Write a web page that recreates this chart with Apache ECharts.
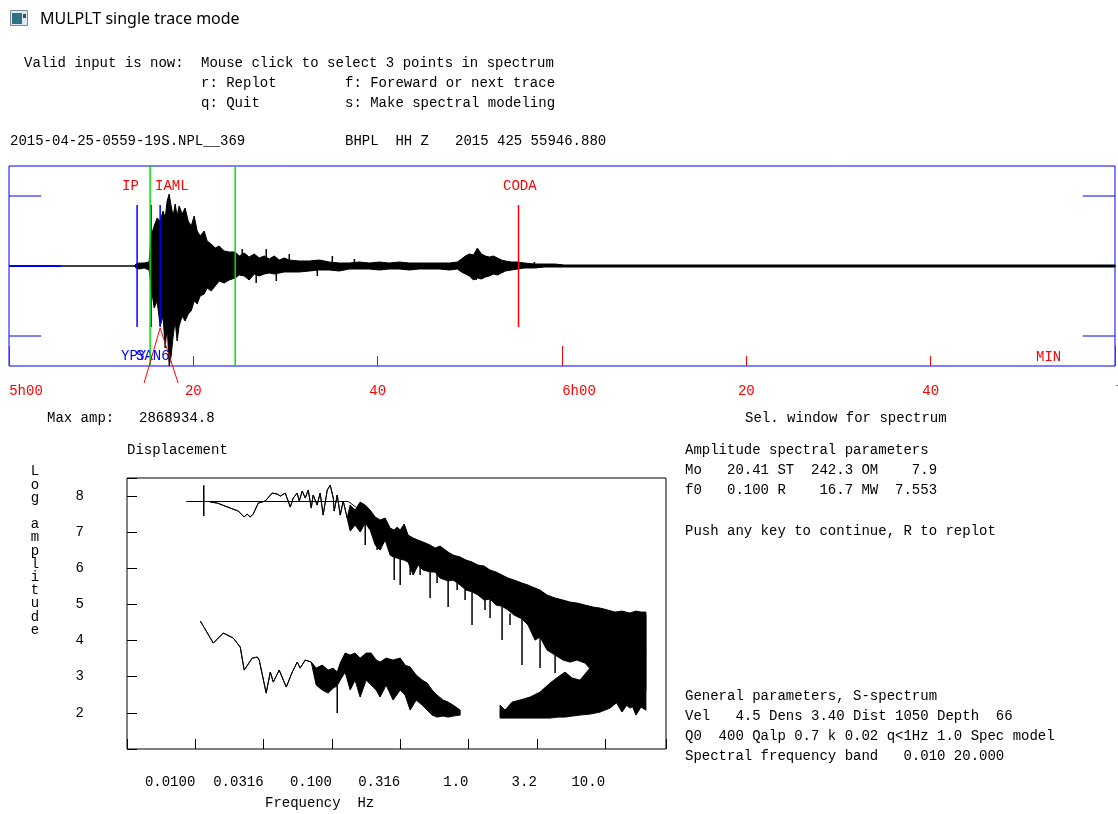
<!DOCTYPE html>
<html>
<head>
<meta charset="utf-8">
<title>MULPLT single trace mode</title>
<script src="https://cdn.jsdelivr.net/npm/echarts@6/dist/echarts.min.js"></script>
<style>
  html, body { margin: 0; padding: 0; background: #fff; }
  #main { width: 1118px; height: 814px; }
</style>
</head>
<body>
<div id="main"></div>
<script>
// ---- trace panel: minutes after 5h00, amplitude in panel units (+-100 = frame)
const traceMin = [0, 13.57, 13.79, 14.12, 14.66, 15.20, 15.42, 15.75, 16.07, 16.40, 16.72, 16.94, 17.16, 17.38, 17.59,
  17.81, 18.03, 18.24, 18.46, 18.79, 19.11, 19.44, 19.77, 20.09, 20.42, 20.74, 21.18, 21.50, 21.94, 22.37, 22.81,
  23.35, 23.89, 24.54, 24.98, 25.52, 26.06, 26.61, 27.15, 27.69, 28.24, 28.78, 29.32, 29.87, 30.41, 31.49, 32.58,
  33.67, 34.75, 35.84, 36.92, 38.01, 39.10, 40.18, 41.27, 42.35, 43.44, 44.53, 45.61, 46.70, 47.78, 48.65, 49.09,
  49.52, 49.96, 50.39, 50.82, 51.26, 51.69, 52.13, 52.56, 53.00, 53.43, 53.87, 54.52, 55.17, 55.93, 57.01, 58.10,
  59.19, 60.27, 120];
const traceTop = [0, 0, 2, 3, 3, 4, 30, 40, 48, 45, 55, 48, 65, 72, 60,
  50, 62, 50, 60, 52, 58, 45, 40, 50, 35, 30, 35, 25, 22, 18, 20,
  15, 14, 14, 10, 13, 9, 12, 8, 10, 7, 10, 6, 8, 6, 5, 5,
  6, 4, 3, 3, 4, 3, 4, 3, 4, 3, 3, 3, 3, 3, 4, 7,
  10, 12, 11, 18, 12, 10, 9, 10, 8, 6, 5, 4, 4, 3, 2, 2,
  2, 1, 1];
const traceBot = [0, 0, -2, -3, -2, -4, -20, -42, -35, -60, -50, -82, -60, -100, -90,
  -70, -55, -75, -60, -50, -55, -48, -45, -35, -38, -30, -28, -22, -25, -20, -15,
  -17, -14, -12, -9, -10, -14, -8, -10, -8, -7, -8, -7, -6, -6, -6, -5,
  -4, -4, -5, -3, -3, -3, -4, -3, -3, -4, -3, -3, -3, -4, -3, -6,
  -8, -10, -14, -12, -13, -11, -10, -8, -9, -7, -5, -4, -3, -2, -2, -1,
  -1, -1, -1];
// isolated swings standing out of the coda: [minute, peak, trough]
const traceSpikeMin = [25.30, 26.82, 27.91, 29.00, 30.41, 33.45, 35.08, 37.47, 50.70, 57.00];
const traceSpikeTop = [17, 5, 17, 4, 12, 3, 10, 7, 2, 4];
const traceSpikeBot = [-5, -17, -5, -15, -4, -10, -3, -3, -14, -1];

const bluePicks = [13.90, 15.42, 16.40];
const greenPicks = [15.31, 24.54];
const codaPick = [55.28];
const amlMarker = [[14.66, -117], [16.40, -62], [18.35, -117]];
const timeLabels = ['5h00', '20', '40', '6h00', '20', '40', '7h00'];

// ---- spectrum panel: log10 frequency (Hz) vs log amplitude
const sigLogF = [-1.890, -1.839, -1.744, -1.685, -1.642, -1.620, -1.598, -1.576, -1.539, -1.488, -1.437, -1.400,
  -1.378, -1.342, -1.320, -1.305, -1.283, -1.254, -1.239, -1.217, -1.195, -1.173, -1.151, -1.137, -1.108, -1.086,
  -1.064, -1.034, -1.012, -0.990, -0.983, -0.961, -0.939, -0.917, -0.888,
  -0.866, -0.830, -0.793, -0.756, -0.720, -0.683, -0.647, -0.610, -0.574, -0.544, -0.522, -0.500, -0.471, -0.442,
  -0.405, -0.369, -0.332, -0.281, -0.244, -0.208, -0.149, -0.113, -0.061, -0.018, 0.026, 0.070, 0.114, 0.158,
  0.202, 0.246, 0.290, 0.334, 0.392, 0.436, 0.487, 0.524, 0.575, 0.634, 0.692, 0.743, 0.794, 0.853, 0.912, 0.963,
  1.021, 1.072, 1.124, 1.182, 1.226, 1.263, 1.299];
const sigTop = [7.834, 7.806, 7.668, 7.585, 7.419, 7.502, 7.419, 7.502, 7.806, 7.862, 8.083, 8.055,
  8.000, 8.083, 7.862, 7.696, 7.945, 8.083, 7.862, 8.138, 7.945, 8.166, 7.668, 8.028, 7.751, 8.083,
  7.474, 8.166, 8.304, 7.945, 7.585, 8.028, 7.474, 7.862, 7.391,
  7.751, 7.613, 7.834, 7.751, 7.613, 7.419, 7.336, 7.391, 7.114, 7.059, 7.142, 7.059, 7.225, 6.920,
  6.837, 6.782, 6.727, 6.644, 6.561, 6.616, 6.450, 6.367, 6.312, 6.229, 6.173, 6.090, 6.063, 5.952,
  5.896, 5.813, 5.730, 5.675, 5.592, 5.537, 5.454, 5.398, 5.260, 5.177, 5.122, 5.067, 5.039, 4.983, 4.928, 4.900,
  4.845, 4.789, 4.817, 4.762, 4.817, 4.789, 4.789];
const sigBot = [7.834, 7.806, 7.668, 7.585, 7.419, 7.502, 7.419, 7.502, 7.806, 7.862, 8.083, 8.055,
  8.000, 8.083, 7.862, 7.696, 7.945, 8.083, 7.862, 8.138, 7.945, 8.166, 7.668, 8.028, 7.751, 8.083,
  7.474, 8.166, 8.304, 7.945, 7.585, 8.028, 7.474, 7.862, 7.391,
  7.031, 7.197, 7.004, 7.253, 7.059, 6.644, 6.505, 6.782, 6.367, 6.300, 6.284, 6.250, 6.229, 6.173,
  5.813, 6.090, 5.952, 5.900, 5.896, 5.730, 5.650, 5.675, 5.537, 5.398, 5.350, 5.260, 5.122, 5.150,
  4.983, 4.950, 4.845, 4.706, 4.600, 4.430, 4.014, 4.100, 3.738, 3.600, 3.461, 3.406, 3.461, 3.378, 3.129, 2.907,
  2.631, 2.354, 2.022, 2.354, 1.939, 2.160, 2.077];
const sigSpikeLogF = [-0.756, -0.669, -0.544, -0.500, -0.427, -0.354, -0.281, -0.230, -0.149, -0.083, -0.025,
  0.026, 0.121, 0.158, 0.246, 0.304, 0.392, 0.524, 0.634];
const sigSpikeTip = [6.644, 6.505, 5.675, 5.537, 5.813, 5.813, 5.177, 5.592, 4.928, 5.398, 5.122,
  4.430, 4.845, 4.623, 4.014, 4.430, 3.322, 3.239, 3.101];
const sigSpikeBase = [7.250, 6.900, 6.300, 6.250, 6.200, 6.100, 5.900, 5.950, 5.650, 5.600, 5.500,
  5.350, 5.200, 5.150, 4.950, 4.750, 4.600, 4.100, 3.600];

const noiseLogF1 = [-1.963, -1.868, -1.795, -1.722, -1.671, -1.642, -1.583, -1.546, -1.532, -1.481, -1.451, -1.429,
  -1.386, -1.334, -1.290, -1.254, -1.232, -1.195, -1.151,
  -1.115, -1.071, -1.027, -0.990, -0.961, -0.939, -0.903, -0.866, -0.830, -0.793, -0.749, -0.713, -0.676, -0.647,
  -0.603, -0.552, -0.500, -0.464, -0.427, -0.383, -0.339, -0.303, -0.266, -0.230, -0.186, -0.149, -0.113, -0.061];
const noiseTop1 = [4.540, 3.931, 4.208, 4.070, 3.821, 3.184, 3.516, 3.544, 3.461, 2.547, 3.129, 2.852,
  3.184, 2.714, 3.129, 3.406, 3.239, 3.461, 3.406,
  3.239, 3.322, 3.184, 3.239, 3.129, 3.378, 3.655, 3.599, 3.655, 3.516, 3.655, 3.655, 3.461, 3.406,
  3.516, 3.461, 3.516, 3.322, 3.267, 3.046, 2.907, 2.824, 2.631, 2.492, 2.354, 2.298, 2.215, 2.077];
const noiseBot1 = [4.540, 3.931, 4.208, 4.070, 3.821, 3.184, 3.516, 3.544, 3.461, 2.547, 3.129, 2.852,
  3.184, 2.714, 3.129, 3.406, 3.239, 3.461, 3.406,
  2.769, 2.631, 2.547, 2.686, 2.750, 2.907, 3.129, 2.631, 2.907, 2.437, 2.907, 2.769, 2.631, 2.437,
  2.769, 2.354, 2.631, 2.492, 2.077, 2.354, 2.215, 2.077, 1.939, 1.883, 1.911, 1.883, 1.911, 1.939];
const noiseSpikeLogF = [-0.961];
const noiseSpikeTip = [1.994];
const noiseSpikeBase = [2.750];

const noiseLogF2 = [0.231, 0.268, 0.319, 0.377, 0.451, 0.524, 0.597, 0.655, 0.707, 0.758, 0.816, 0.890, 0.963,
  1.036, 1.109, 1.182, 1.255, 1.299];
const noiseTop2 = [2.215, 2.077, 2.298, 2.354, 2.437, 2.575, 2.824, 2.990, 3.129, 2.963, 2.907, 3.239, 3.516,
  3.738, 4.014, 4.291, 4.568, 4.706];
const noiseBot2 = [1.856, 1.856, 1.856, 1.856, 1.856, 1.856, 1.856, 1.883, 1.883, 1.911, 1.939, 1.966, 2.022,
  2.132, 2.354, 2.132, 2.271, 2.631];

const fitLogF = [-2.066, -0.880, -0.650, -0.450, 1.300];
const fitAmp = [7.85, 7.85, 7.20, 6.84, 3.60];
const crossLogF = -1.938;
const crossAmp = [7.45, 8.30];

const freqLabels = ['0.0100', '0.0316', '0.100', '0.316', '1.0', '3.2', '10.0'];
const ampLabels = ['2', '3', '4', '5', '6', '7', '8'];

// ---- helpers
const MONO = '"Liberation Mono", "DejaVu Sans Mono", monospace';
const FONT = '14px ' + MONO;

function bandSeries(xs, top, bot, xi, yi) {
  return {
    type: 'custom', xAxisIndex: xi, yAxisIndex: yi, silent: true, animation: false,
    data: [[xs[0], top[0]]],
    renderItem: function (params, api) {
      const pts = [];
      for (let i = 0; i < xs.length; i++) pts.push(api.coord([xs[i], top[i]]));
      for (let i = xs.length - 1; i >= 0; i--) pts.push(api.coord([xs[i], bot[i]]));
      return { type: 'polygon', shape: { points: pts }, style: { fill: '#000', stroke: '#000', lineWidth: 1 } };
    }
  };
}

// vertical segments, data item = [x, y0, y1]
function segSeries(items, color, xi, yi, width) {
  return {
    type: 'custom', xAxisIndex: xi, yAxisIndex: yi, silent: true, animation: false,
    data: items,
    renderItem: function (params, api) {
      const a = api.coord([api.value(0), api.value(1)]);
      const b = api.coord([api.value(0), api.value(2)]);
      return { type: 'line', shape: { x1: a[0], y1: a[1], x2: b[0], y2: b[1] },
        style: { stroke: color, lineWidth: width || 1 } };
    }
  };
}

function lineSeries(data, color, xi, yi, width) {
  return {
    type: 'line', xAxisIndex: xi, yAxisIndex: yi, data: data, clip: false, silent: true,
    symbol: 'none', animation: false, lineStyle: { color: color, width: width || 1 }
  };
}

function txt(text, x, y, color, font) {
  return { type: 'text', x: x, y: y, silent: true,
    style: { text: text, fill: color || '#000', font: font || FONT, textVerticalAlign: 'middle' } };
}

const chart = echarts.init(document.getElementById('main'));

const series = [
  bandSeries(traceMin, traceTop, traceBot, 0, 0),
  segSeries(traceSpikeMin.map((t, i) => [t, traceSpikeTop[i], traceSpikeBot[i]]), '#000', 0, 0, 1.5),
  lineSeries([[0, 0], [5.65, 0]], '#0000ff', 0, 0, 2),
  lineSeries([[0, 70], [3.5, 70]], '#0000ff', 0, 0, 1),
  lineSeries([[0, -70], [3.5, -70]], '#0000ff', 0, 0, 1),
  lineSeries([[116.5, 70], [120, 70]], '#0000ff', 0, 0, 1),
  lineSeries([[116.5, -70], [120, -70]], '#0000ff', 0, 0, 1),
  segSeries(bluePicks.map(t => [t, 61, -61]), '#0000ff', 0, 0, 1.5),
  segSeries(greenPicks.map(t => [t, 100, -100]), '#00e000', 0, 0, 1.5),
  segSeries(codaPick.map(t => [t, 61, -61]), '#ff0000', 0, 0, 1.5),
  lineSeries(amlMarker, '#ff0000', 0, 0, 1),

  bandSeries(noiseLogF1, noiseTop1, noiseBot1, 2, 1),
  bandSeries(noiseLogF2, noiseTop2, noiseBot2, 2, 1),
  segSeries(noiseSpikeLogF.map((f, i) => [f, noiseSpikeTip[i], noiseSpikeBase[i]]), '#000', 2, 1, 1.5),
  bandSeries(sigLogF, sigTop, sigBot, 2, 1),
  segSeries(sigSpikeLogF.map((f, i) => [f, sigSpikeTip[i], sigSpikeBase[i]]), '#000', 2, 1, 1.5),
  lineSeries(fitLogF.map((f, i) => [f, fitAmp[i]]), '#000', 2, 1, 1),
  segSeries([[crossLogF, crossAmp[0], crossAmp[1]]], '#000', 2, 1, 1.5)
];

const graphics = [
  // window icon + title
  { type: 'rect', shape: { x: 10.5, y: 10.5, width: 17, height: 15 }, style: { fill: '#dfe9f2', stroke: '#7d8a96', lineWidth: 1 } },
  { type: 'rect', shape: { x: 12, y: 13, width: 10, height: 11 }, style: { fill: '#2e7287' } },
  { type: 'rect', shape: { x: 23, y: 14, width: 3, height: 4 }, style: { fill: '#4a4a4a' } },
  txt('MULPLT single trace mode', 40, 19, '#000', '16px "Noto Sans", "Open Sans", sans-serif'),

  txt('Valid input is now:', 24, 63),
  txt('Mouse click to select 3 points in spectrum', 201, 63),
  txt('r: Replot', 201, 83),
  txt('f: Foreward or next trace', 345, 83),
  txt('q: Quit', 201, 103),
  txt('s: Make spectral modeling', 345, 103),
  txt('2015-04-25-0559-19S.NPL__369', 10, 141),
  txt('BHPL  HH Z', 345, 141),
  txt('2015 425 55946.880', 455, 141),

  txt('IP', 122, 186, '#ff0000'),
  txt('IAML', 155, 186, '#ff0000'),
  txt('CODA', 503, 186, '#ff0000'),
  txt('YPY', 121, 356, '#0000ff'),
  txt('SAN6', 136, 356, '#0000ff'),
  txt('MIN', 1036, 357, '#ff0000'),

  txt('Max amp:', 47, 418),
  txt('2868934.8', 139, 418),
  txt('Sel. window for spectrum', 745, 418),

  txt('Displacement', 127, 450),
  { type: 'text', x: 35, y: 465, silent: true,
    style: { text: 'Log amplitude'.split('').join('\n'), fill: '#000', font: FONT, textAlign: 'center', lineHeight: 13.2 } },
  txt('Frequency  Hz', 265, 803),

  txt('Amplitude spectral parameters', 685, 450),
  txt('Mo   20.41 ST  242.3 OM    7.9', 685, 470),
  txt('f0   0.100 R    16.7 MW  7.553', 685, 490),
  txt('Push any key to continue, R to replot', 685, 531),
  txt('General parameters, S-spectrum', 685, 696),
  txt('Vel   4.5 Dens 3.40 Dist 1050 Depth  66', 685, 716),
  txt('Q0  400 Qalp 0.7 k 0.02 q<1Hz 1.0 Spec model', 685, 736),
  txt('Spectral frequency band   0.010 20.000', 685, 756)
];

chart.setOption({
  backgroundColor: '#fff',
  animation: false,
  grid: [
    { left: 9, top: 166, width: 1106, height: 200, show: true, borderColor: '#0000ff', borderWidth: 1,
      containLabel: false, outerBoundsMode: 'none' },
    { left: 127, top: 478, width: 539, height: 271, show: true, borderColor: '#000', borderWidth: 1,
      containLabel: false, outerBoundsMode: 'none' }
  ],
  xAxis: [
    { gridIndex: 0, type: 'value', position: 'bottom', min: 0, max: 120, interval: 20,
      axisLine: { show: false, onZero: false }, splitLine: { show: false },
      axisTick: { inside: true, length: 10, lineStyle: { color: '#ff0000', width: 1 } },
      axisLabel: {
        margin: 18, color: '#ff0000', fontFamily: MONO, fontSize: 14, hideOverlap: false,
        formatter: function (v) {
          const s = timeLabels[Math.round(v / 20)] || '';
          return s.indexOf('h') > 0 ? '{h|' + s + '}' : s;
        },
        rich: { h: { padding: [0, 0, 0, 34], color: '#ff0000', fontFamily: MONO, fontSize: 14 } }
      } },
    { gridIndex: 0, type: 'value', position: 'bottom', min: 0, max: 120, interval: 60,
      axisLine: { show: false, onZero: false }, splitLine: { show: false }, axisLabel: { show: false },
      axisTick: { inside: true, length: 20, lineStyle: { color: '#ff0000', width: 1 } } },
    { gridIndex: 1, type: 'value', position: 'bottom', min: -2.5, max: 1.446, interval: 0.5,
      axisLine: { show: false, onZero: false }, splitLine: { show: false },
      axisTick: { inside: true, length: 10, lineStyle: { color: '#000', width: 1 } },
      axisLabel: {
        margin: 26, color: '#000', fontFamily: MONO, fontSize: 14, align: 'right',
        showMinLabel: true, showMaxLabel: true,
        formatter: function (v) {
          const k = Math.round((v + 2) / 0.5);
          if (Math.abs(v - (-2 + k * 0.5)) > 1e-6) return '';
          return freqLabels[k] || '';
        }
      } }
  ],
  yAxis: [
    { gridIndex: 0, type: 'value', min: -100, max: 100, show: false, axisLine: { onZero: false } },
    { gridIndex: 1, type: 'value', position: 'left', min: 1, max: 8.5, interval: 1,
      axisLine: { show: false, onZero: false }, splitLine: { show: false },
      axisTick: { inside: true, length: 10, lineStyle: { color: '#000', width: 1 } },
      axisLabel: {
        margin: 43, color: '#000', fontFamily: MONO, fontSize: 14,
        formatter: function (v) { return ampLabels[Math.round(v) - 2] || ''; }
      } }
  ],
  series: series,
  graphic: graphics
});
</script>
</body>
</html>
